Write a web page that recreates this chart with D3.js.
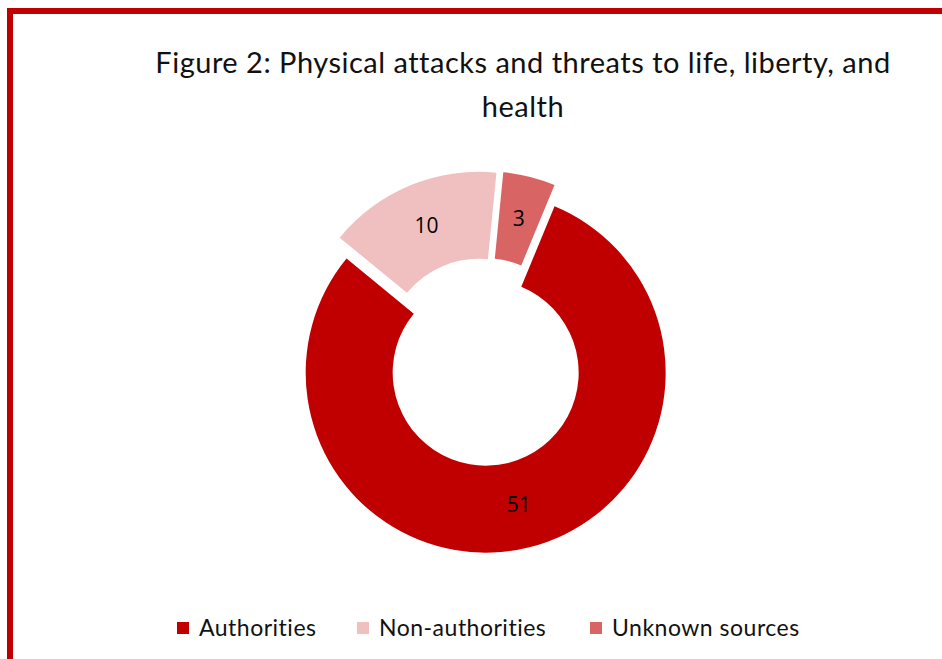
<!DOCTYPE html>
<html>
<head>
<meta charset="utf-8">
<script src="https://cdn.jsdelivr.net/npm/d3@7"></script>
<style>
  html, body { margin: 0; padding: 0; background: #fff; }
  svg { display: block; }
</style>
</head>
<body>
<svg id="chart" width="942" height="659"></svg>
<script>
(function() {
  'use strict';

  // Chart data
  const categories = ['Authorities', 'Non-authorities', 'Unknown sources'];
  const counts = [51, 10, 3];
  const sliceColors = ['#C00000', '#F0C0C0', '#D96464'];
  const titleLines = ['Figure 2: Physical attacks and threats to life, liberty, and', 'health'];

  const width = 942, height = 659;
  const svg = d3.select('#chart');

  // Red frame (only top and left visible in the crop)
  svg.append('rect')
    .attr('x', 10).attr('y', 11)
    .attr('width', 960).attr('height', 700)
    .attr('fill', 'none')
    .attr('stroke', '#C00000')
    .attr('stroke-width', 6);

  // Title
  svg.append('g')
    .selectAll('text')
    .data(titleLines)
    .enter()
    .append('text')
    .attr('x', 523)
    .attr('y', (d, i) => 73 + i * 44)
    .attr('text-anchor', 'middle')
    .attr('font-family', 'Lato, "Open Sans", sans-serif')
    .attr('font-size', 29)
    .attr('letter-spacing', 0.5)
    .attr('fill', '#111')
    .text(d => d);

  // Donut
  const cx = 483, cy = 362;
  const outerR = 180, innerR = 93;
  const explode = 11;
  const startAngle = 22.5 * Math.PI / 180;

  const pie = d3.pie()
    .sort(null)
    .startAngle(startAngle)
    .endAngle(startAngle + 2 * Math.PI)
    .value(d => d);

  const arc = d3.arc().innerRadius(innerR).outerRadius(outerR);
  const arcs = pie(counts);

  const slices = svg.append('g')
    .attr('transform', `translate(${cx},${cy})`)
    .selectAll('g')
    .data(arcs)
    .enter()
    .append('g')
    .attr('transform', d => {
      const mid = (d.startAngle + d.endAngle) / 2;
      return `translate(${explode * Math.sin(mid)},${-explode * Math.cos(mid)})`;
    });

  slices.append('path')
    .attr('d', arc)
    .attr('fill', (d, i) => sliceColors[i]);

  slices.append('text')
    .attr('transform', d => `translate(${arc.centroid(d)})`)
    .attr('text-anchor', 'middle')
    .attr('dy', '0.35em')
    .attr('font-family', '"Open Sans", "Noto Sans", sans-serif')
    .attr('font-size', 21)
    .attr('fill', '#000')
    .text(d => d.data);

  // Legend
  const legendX = [177, 357, 590];
  const legend = svg.append('g')
    .selectAll('g')
    .data(categories)
    .enter()
    .append('g')
    .attr('transform', (d, i) => `translate(${legendX[i]},628)`);

  legend.append('rect')
    .attr('x', 0).attr('y', -6)
    .attr('width', 12).attr('height', 12)
    .attr('fill', (d, i) => sliceColors[i]);

  legend.append('text')
    .attr('x', 22)
    .attr('dy', '0.35em')
    .attr('font-family', 'Lato, "Open Sans", sans-serif')
    .attr('font-size', 23)
    .attr('letter-spacing', 0.5)
    .attr('fill', '#111')
    .text(d => d);
})();
</script>
</body>
</html>
